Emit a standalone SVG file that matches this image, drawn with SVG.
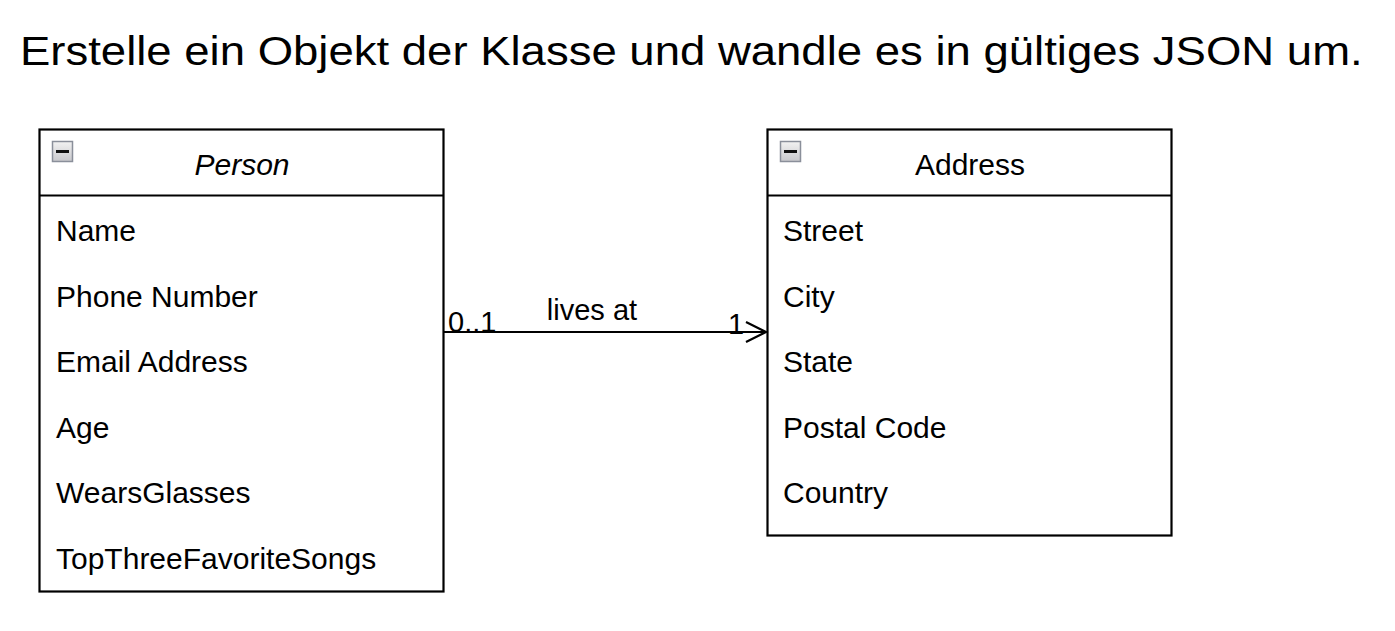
<svg xmlns="http://www.w3.org/2000/svg" width="1395" height="631" viewBox="0 0 1395 631">
<defs>
<linearGradient id="ig" x1="0" y1="0" x2="0" y2="1"><stop offset="0" stop-color="#f2f2f2"/><stop offset="1" stop-color="#c8c8cc"/></linearGradient>
<marker id="open" markerWidth="30" markerHeight="30" refX="22" refY="15" orient="auto" markerUnits="userSpaceOnUse"><path d="M2,5 L22,15 L2,25" fill="none" stroke="#000" stroke-width="2.2"/></marker>
</defs>
<style>
text{font-family:"Liberation Sans",Arial,sans-serif;fill:#000}
.title{font-size:41px}
.attr{font-size:30px}
.head{font-size:30px;text-anchor:middle}
.box{fill:#fff;stroke:#000;stroke-width:2.2}
.sep{stroke:#000;stroke-width:2.2}
.icon{fill:url(#ig);stroke:#8a8f9a;stroke-width:1.5}
.lbl{font-size:29px}
</style>
<text class="title" x="18" y="65" transform="scale(1.11,1)">Erstelle ein Objekt der Klasse und wandle es in gültiges JSON um.</text>
<g id="person">
<rect class="box" x="39.5" y="129.5" width="404" height="462"/>
<line class="sep" x1="39.5" y1="195.5" x2="443.5" y2="195.5"/>
<rect class="icon" x="52.5" y="141.5" width="20" height="20"/>
<rect x="56" y="150" width="13" height="3" fill="#111"/>
<text class="head" x="242" y="175" font-style="italic">Person</text>
<text class="attr" x="56" y="241">Name</text>
<text class="attr" x="56" y="307">Phone Number</text>
<text class="attr" x="56" y="372">Email Address</text>
<text class="attr" x="56" y="438">Age</text>
<text class="attr" x="56" y="503">WearsGlasses</text>
<text class="attr" x="56" y="569">TopThreeFavoriteSongs</text>
</g>
<g id="address">
<rect class="box" x="767.5" y="129.5" width="404" height="406"/>
<line class="sep" x1="767.5" y1="195.5" x2="1171.5" y2="195.5"/>
<rect class="icon" x="780.5" y="141.5" width="20" height="20"/>
<rect x="784" y="150" width="13" height="3" fill="#111"/>
<text class="head" x="970" y="175">Address</text>
<text class="attr" x="783" y="241">Street</text>
<text class="attr" x="783" y="307">City</text>
<text class="attr" x="783" y="372">State</text>
<text class="attr" x="783" y="438">Postal Code</text>
<text class="attr" x="783" y="503">Country</text>
</g>
<g id="connectors">
<line x1="443.5" y1="332" x2="766" y2="332" stroke="#000" stroke-width="2.2" marker-end="url(#open)"/>
<text class="lbl" x="448" y="332">0..1</text>
<text class="lbl" x="592" y="320" text-anchor="middle">lives at</text>
<text class="lbl" x="728" y="334">1</text>
</g>
</svg>
